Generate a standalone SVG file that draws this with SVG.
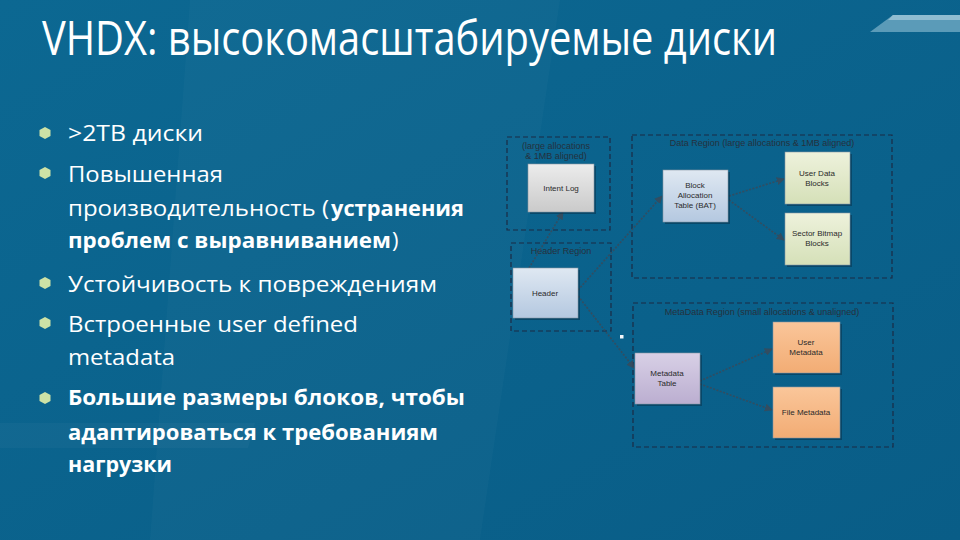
<svg xmlns="http://www.w3.org/2000/svg" width="960" height="540" viewBox="0 0 960 540">
<defs>
<linearGradient id="bg" x1="0" y1="0" x2="1" y2="1">
<stop offset="0" stop-color="#0c6892"/>
<stop offset="1" stop-color="#095d87"/>
</linearGradient>
<linearGradient id="gGray" x1="0" y1="0" x2="0" y2="1"><stop offset="0" stop-color="#ececec"/><stop offset="1" stop-color="#cacaca"/></linearGradient>
<linearGradient id="gBlue" x1="0" y1="0" x2="0" y2="1"><stop offset="0" stop-color="#dfe8f2"/><stop offset="1" stop-color="#b4c8e0"/></linearGradient>
<linearGradient id="gGreen" x1="0" y1="0" x2="0" y2="1"><stop offset="0" stop-color="#eef2dc"/><stop offset="1" stop-color="#d5e0b8"/></linearGradient>
<linearGradient id="gPurple" x1="0" y1="0" x2="0" y2="1"><stop offset="0" stop-color="#d8d0e6"/><stop offset="1" stop-color="#bbaed0"/></linearGradient>
<linearGradient id="gOrange" x1="0" y1="0" x2="0" y2="1"><stop offset="0" stop-color="#fac69a"/><stop offset="1" stop-color="#f2ac74"/></linearGradient>
<marker id="arr" viewBox="0 0 10 10" refX="9" refY="5" markerWidth="5" markerHeight="5" orient="auto-start-reverse">
<path d="M0,0 L10,5 L0,10 z" fill="#3a4a5a"/>
</marker>
</defs>
<style>
.title{font-family:"Open Sans","Liberation Sans",sans-serif;font-size:48px;fill:#ffffff}
.b{font-family:"Open Sans","Liberation Sans",sans-serif;font-size:22px;fill:#ffffff}
.bb{font-family:"Open Sans","Liberation Sans",sans-serif;font-size:22px;font-weight:bold;fill:#ffffff}
.region{fill:none;stroke:#1b2b45;stroke-width:1.2;stroke-dasharray:5 3}
.rl{font-family:"Liberation Sans",sans-serif;font-size:9px;fill:#25313d}
.box{stroke:#8a96a4;stroke-width:0.6}
.shadow{fill:#062d45;opacity:0.5}
.bl{font-family:"Liberation Sans",sans-serif;font-size:8px;fill:#2a2a2a;text-anchor:middle}
.con{fill:none;stroke:#3a4a5a;stroke-width:1.6;stroke-dasharray:2 1.5;opacity:0.85;marker-end:url(#arr)}
.dot{fill:#cde2a6}
</style>
<rect x="0" y="0" width="960" height="540" fill="url(#bg)"/>
<polygon points="190,0 560,0 480,540 150,540" fill="#ffffff" opacity="0.025"/>
<polygon points="0,423 255,423 248,448 0,448" fill="#ffffff" opacity="0.03"/>
<polygon points="893,15 960,15 960,32 870,32" fill="#5b9bb8"/>
<polygon points="893,15 960,15 960,20 888,20" fill="#8fbdd2"/>

<text class="title" x="42" y="55" textLength="735" lengthAdjust="spacingAndGlyphs">VHDX: высокомасштабируемые диски</text>

<g id="bullets">
<polygon class="dot" points="45,127 50.5,130 50.5,136 45,139 39.5,136 39.5,130"/>
<polygon class="dot" points="45,167 50.5,170 50.5,176 45,179 39.5,176 39.5,170"/>
<polygon class="dot" points="45,277 50.5,280 50.5,286 45,289 39.5,286 39.5,280"/>
<polygon class="dot" points="45,317 50.5,320 50.5,326 45,329 39.5,326 39.5,320"/>
<polygon class="dot" points="45,392 50.5,395 50.5,401 45,404 39.5,401 39.5,395"/>
<text class="b" x="68" y="141" textLength="135" lengthAdjust="spacingAndGlyphs">&gt;2TB диски</text>
<text class="b" x="68" y="182" textLength="155" lengthAdjust="spacingAndGlyphs">Повышенная</text>
<text class="b" x="68" y="216" textLength="261" lengthAdjust="spacingAndGlyphs">производительность (</text>
<text class="bb" x="331" y="216" textLength="133" lengthAdjust="spacingAndGlyphs">устранения</text>
<text class="bb" x="68" y="248" textLength="323" lengthAdjust="spacingAndGlyphs">проблем с выравниванием</text>
<text class="b" x="392" y="248">)</text>
<text class="b" x="68" y="292" textLength="369" lengthAdjust="spacingAndGlyphs">Устойчивость к повреждениям</text>
<text class="b" x="68" y="332" textLength="290" lengthAdjust="spacingAndGlyphs">Встроенные user defined</text>
<text class="b" x="68" y="365" textLength="107" lengthAdjust="spacingAndGlyphs">metadata</text>
<text class="bb" x="68" y="405" textLength="397" lengthAdjust="spacingAndGlyphs">Большие размеры блоков, чтобы</text>
<text class="bb" x="68" y="440" textLength="370" lengthAdjust="spacingAndGlyphs">адаптироваться к требованиям</text>
<text class="bb" x="68" y="472" textLength="104" lengthAdjust="spacingAndGlyphs">нагрузки</text>
</g>

<g id="regions">
<g id="region-log">
<rect class="region" x="507" y="137" width="103" height="93"/>
<text class="rl" x="556" y="149" text-anchor="middle">(large allocations</text>
<text class="rl" x="556" y="159" text-anchor="middle">&amp; 1MB aligned)</text>
</g>
<g id="region-header">
<rect class="region" x="511" y="243" width="100" height="88"/>
<text class="rl" x="561" y="254" text-anchor="middle">Header Region</text>
</g>
<g id="region-data">
<rect class="region" x="632" y="135" width="260" height="143"/>
<text class="rl" x="762" y="146" text-anchor="middle">Data Region (large allocations &amp; 1MB aligned)</text>
</g>
<g id="region-meta">
<rect class="region" x="633" y="303" width="260" height="144"/>
<text class="rl" x="762" y="315" text-anchor="middle">MetaData Region (small allocations &amp; unaligned)</text>
</g>
</g>

<rect x="620" y="335" width="3.5" height="3.5" fill="#f4f8fb"/>

<g id="connectors">
<path class="con" d="M529,268 L563,212"/>
<path class="con" d="M578,290 L662,196"/>
<path class="con" d="M578,296 L634,368"/>
<path class="con" d="M729,196 L784,179"/>
<path class="con" d="M729,200 L784,240"/>
<path class="con" d="M700,381 L772,349"/>
<path class="con" d="M700,384 L772,410"/>
</g>

<g id="intent-log">
<rect class="shadow" x="530" y="166" width="66" height="48"/>
<rect class="box" x="528" y="164" width="66" height="48" fill="url(#gGray)"/>
<text class="bl" x="561" y="191">Intent Log</text>
</g>
<g id="header">
<rect class="shadow" x="515" y="270" width="65" height="50"/>
<rect class="box" x="513" y="268" width="65" height="50" fill="url(#gBlue)"/>
<text class="bl" x="545" y="296">Header</text>
</g>
<g id="bat">
<rect class="shadow" x="665" y="172" width="65" height="52"/>
<rect class="box" x="663" y="170" width="65" height="52" fill="url(#gBlue)"/>
<text class="bl" x="695" y="188">Block</text>
<text class="bl" x="695" y="198">Allocation</text>
<text class="bl" x="695" y="208">Table (BAT)</text>
</g>
<g id="user-data">
<rect class="shadow" x="787" y="154" width="65" height="52"/>
<rect class="box" x="785" y="152" width="65" height="52" fill="url(#gGreen)"/>
<text class="bl" x="817" y="176">User Data</text>
<text class="bl" x="817" y="186">Blocks</text>
</g>
<g id="sector-bitmap">
<rect class="shadow" x="787" y="215" width="65" height="52"/>
<rect class="box" x="785" y="213" width="65" height="52" fill="url(#gGreen)"/>
<text class="bl" x="817" y="236">Sector Bitmap</text>
<text class="bl" x="817" y="246">Blocks</text>
</g>
<g id="metadata-table">
<rect class="shadow" x="637" y="355" width="65" height="51"/>
<rect class="box" x="635" y="353" width="65" height="51" fill="url(#gPurple)"/>
<text class="bl" x="667" y="376">Metadata</text>
<text class="bl" x="667" y="386">Table</text>
</g>
<g id="user-metadata">
<rect class="shadow" x="775" y="324" width="67" height="51"/>
<rect class="box" x="773" y="322" width="67" height="51" fill="url(#gOrange)"/>
<text class="bl" x="806" y="345">User</text>
<text class="bl" x="806" y="355">Metadata</text>
</g>
<g id="file-metadata">
<rect class="shadow" x="775" y="389" width="67" height="51"/>
<rect class="box" x="773" y="387" width="67" height="51" fill="url(#gOrange)"/>
<text class="bl" x="806" y="415">File Metadata</text>
</g>
</svg>
